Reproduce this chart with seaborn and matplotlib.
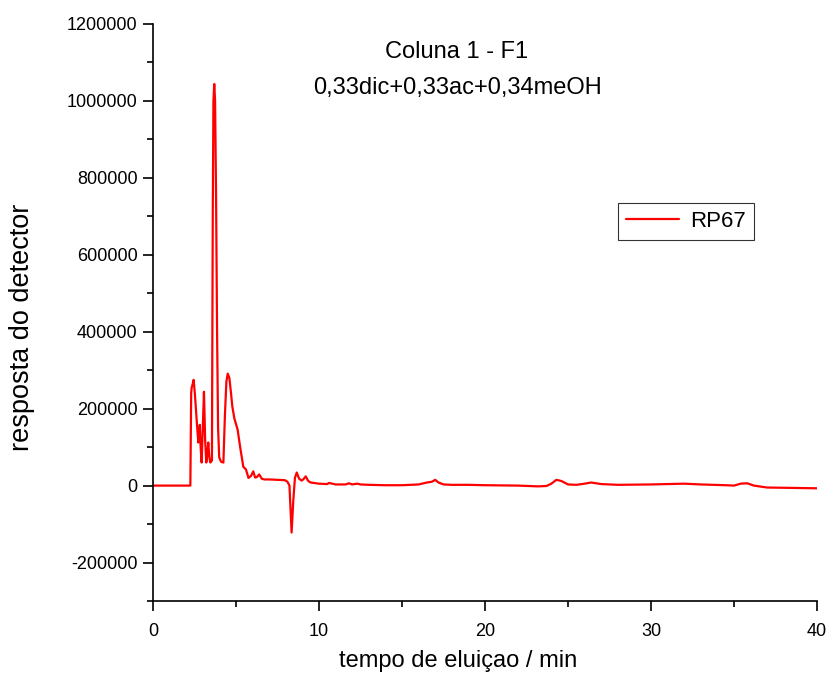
import numpy as np
import pandas as pd
import matplotlib
matplotlib.use("Agg")
import matplotlib.pyplot as plt
import seaborn as sns
from matplotlib.ticker import MultipleLocator

# retention time (min)
tempo = [0, 2.25, 2.3, 2.33, 2.38, 2.45, 2.52, 2.6, 2.68, 2.73,
         2.78, 2.82, 2.87, 2.93, 3.0, 3.07, 3.14, 3.21, 3.27, 3.33,
         3.39, 3.45, 3.55, 3.6, 3.64, 3.69, 3.74, 3.8, 3.86, 3.92, 3.99,
         4.1, 4.24, 4.33, 4.42, 4.5, 4.6, 4.7, 4.78, 4.9, 5.0,
         5.1, 5.25, 5.44, 5.6, 5.75, 5.9, 6.04, 6.15, 6.25, 6.4,
         6.55, 6.7, 7.0, 7.5, 7.95, 8.1, 8.22, 8.35, 8.45, 8.55,
         8.66, 8.8, 8.95, 9.05, 9.2, 9.35, 9.5, 10.0, 10.5, 10.6,
         11.0, 11.6, 11.8, 12.0, 12.3, 12.5, 13, 14, 15, 16,
         16.5, 16.8, 17.0, 17.2, 17.5, 18, 19, 20, 22, 23.2,
         23.7, 24.0, 24.3, 24.6, 25.0, 25.5, 26.0, 26.4, 27, 28,
         30, 31, 32, 33, 34.5, 35.0, 35.4, 35.8, 36.2, 37,
         38.5, 40]
# detector response (thousands)
resposta_k = [0, 0, 240, 255, 262, 275, 240, 190, 140, 112,
              130, 158, 100, 60, 150, 244, 120, 60, 80, 112,
              75, 60, 65, 700, 1000, 1044, 1000, 750, 400, 150, 73,
              62, 60, 180, 270, 291, 280, 240, 205, 175, 160,
              145, 100, 49, 42, 20, 25, 37, 21, 22, 29,
              18, 16, 16, 15, 14, 10, 0, -122, -40, 20,
              34, 18, 13, 16, 24, 12, 8, 5, 4, 7,
              3, 3, 6, 3, 5, 3, 2, 1, 1, 3,
              8, 10, 15, 8, 3, 2, 2, 1, 0, -2,
              -1, 5, 15, 12, 3, 2, 5, 8, 4, 2,
              3, 4, 5, 3, 1, 0, 5, 6, 0, -5,
              -6, -7]
resposta = [v * 1000 for v in resposta_k]

serie = "RP67"
titulo1 = "Coluna 1 - F1"
titulo2 = "0,33dic+0,33ac+0,34meOH"
xlabel = "tempo de eluiçao / min"
ylabel = "resposta do detector"

df = pd.DataFrame({"tempo": tempo, "resposta": resposta})

sns.set_style("ticks", rc={"text.color": "black", "axes.labelcolor": "black",
                            "xtick.color": "black", "ytick.color": "black"})
plt.rcParams['font.family'] = ['Liberation Sans', 'DejaVu Sans']

fig = plt.figure(figsize=(8.3, 6.81), dpi=100)
ax = fig.add_axes([153/830, 1-601/681, (817-153)/830, (601-24)/681])

sns.lineplot(data=df, x="tempo", y="resposta", color="red", linewidth=1.6,
             label=serie, ax=ax, sort=False)

ax.set_xlim(0, 40)
ax.set_ylim(-300000, 1200000)
ax.set_yticks([-200000, 0, 200000, 400000, 600000, 800000, 1000000, 1200000])
ax.set_yticklabels(["-200000", "0", "200000", "400000", "600000", "800000", "1000000", "1200000"])
ax.set_xticks([0, 10, 20, 30, 40])
ax.xaxis.set_minor_locator(MultipleLocator(5))
ax.yaxis.set_minor_locator(MultipleLocator(100000))
ax.tick_params(which="major", direction="out", length=7, width=1.2, labelsize=13)
ax.tick_params(axis="x", which="major", pad=9)
ax.tick_params(axis="y", which="major", pad=4)
ax.tick_params(which="minor", direction="out", length=4, width=1.2)
sns.despine(ax=ax)
for s in ["left", "bottom"]:
    ax.spines[s].set_linewidth(1.2)
    ax.spines[s].set_color("black")

ax.set_xlabel(xlabel, fontsize=17)
ax.set_ylabel(ylabel, fontsize=19.5)
ax.xaxis.set_label_coords((458-153)/664, -(650-601)/577, transform=ax.transAxes)
ax.yaxis.set_label_coords(-(153-35)/664, (601-327)/577, transform=ax.transAxes)

ax.text((457-153)/664, 1-(52-24)/577, titulo1, transform=ax.transAxes, ha="center",
        va="center", fontsize=17)
ax.text((457-153)/664, 1-(88-24)/577, titulo2, transform=ax.transAxes, ha="center",
        va="center", fontsize=17)

leg = ax.legend(loc="upper left", bbox_to_anchor=((618-153)/664, 1-(203-24)/577),
                frameon=True, fancybox=False, fontsize=16, handlelength=2.4,
                handletextpad=0.5, borderpad=0.35, borderaxespad=0)
leg.get_frame().set_edgecolor("black")
leg.get_frame().set_linewidth(0.8)

fig.savefig("out.png", dpi=100)
